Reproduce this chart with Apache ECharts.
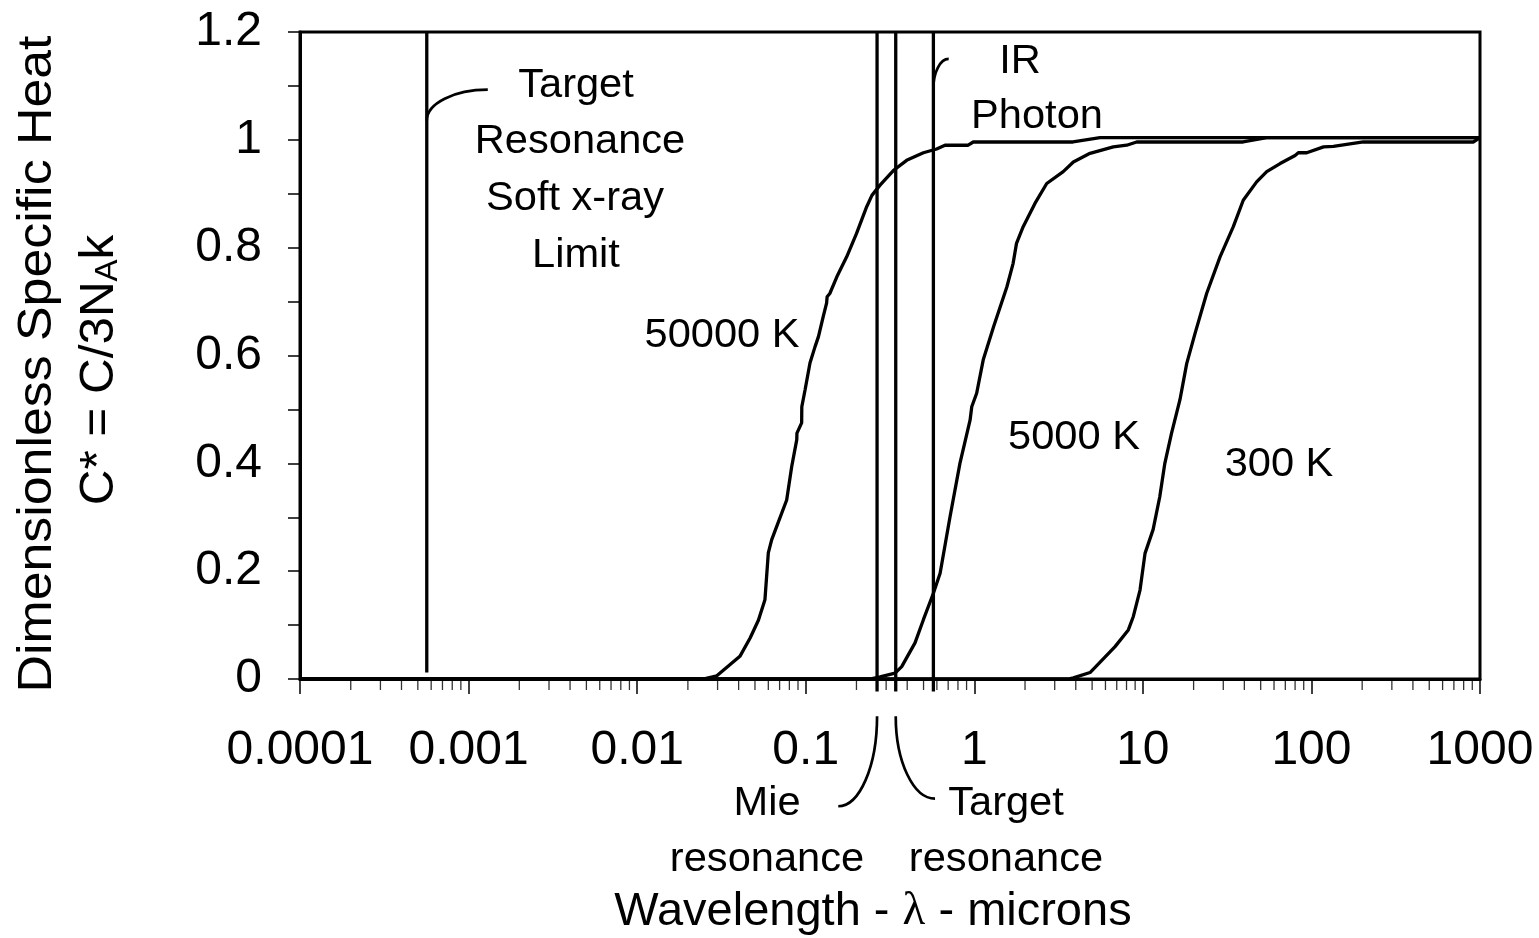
<!DOCTYPE html>
<html><head><meta charset="utf-8">
<script src="https://cdn.jsdelivr.net/npm/echarts@6/dist/echarts.min.js"></script>
<style>html,body{margin:0;padding:0;background:#fff}#c{width:1539px;height:938px}</style>
</head><body><div id="c"></div>
<script>
// ---- tick labels ----
const xTickLabels = ['0.0001','0.001','0.01','0.1','1','10','100','1000'];
const yTickLabels = ['0','0.2','0.4','0.6','0.8','1','1.2'];

// ---- 50000 K curve ----
const wl50000 = [0.0001,0.0246,0.0297,0.0407,0.0468,0.0524,0.0573,0.0600,0.0628,0.0673,0.0771,0.0826,0.0885,0.0887,0.0946,0.0948,0.0991,0.106,0.1135,0.119,0.127,0.133,0.134,0.139,0.153,0.175,0.200,0.230,0.247,0.276,0.331,0.397,0.499,0.598,0.670,0.920,0.986,3.85,5.57,1000];
const c50000  = [0,0,0.006,0.042,0.076,0.109,0.147,0.234,0.258,0.283,0.332,0.394,0.444,0.456,0.475,0.505,0.536,0.586,0.616,0.635,0.672,0.697,0.709,0.715,0.746,0.783,0.826,0.876,0.897,0.916,0.943,0.962,0.976,0.983,0.990,0.990,0.996,0.996,1.004,1.004];

// ---- 5000 K curve ----
const wl5000 = [0.0001,0.24,0.276,0.339,0.371,0.445,0.499,0.572,0.627,0.718,0.822,0.944,0.966,1.033,1.13,1.30,1.56,1.70,1.78,1.95,2.29,2.69,3.37,3.87,4.86,6.68,8.02,9.19,39.3,54.3,1000];
const c5000  = [0,0,0.004,0.011,0.023,0.067,0.110,0.159,0.196,0.301,0.400,0.480,0.505,0.530,0.592,0.653,0.727,0.771,0.808,0.839,0.882,0.919,0.941,0.959,0.975,0.987,0.990,0.996,0.996,1.004,1.004];

// ---- 300 K curve ----
const wl300 = [0.0001,3.6,3.87,4.86,6.84,8.20,8.78,9.62,10.3,11.5,12.6,13.5,14.8,16.6,18.2,20.4,23.9,28.7,34.4,39.4,47.3,54.3,65.2,80.0,83.6,93.8,118,135,203,912,1000];
const c300  = [0,0,0.002,0.012,0.060,0.091,0.116,0.165,0.233,0.277,0.338,0.400,0.456,0.518,0.585,0.641,0.715,0.783,0.839,0.888,0.922,0.941,0.956,0.971,0.976,0.976,0.987,0.988,0.996,0.996,1.004];

// ---- vertical marker lines ----
const vlineX = [0.000565, 0.265, 0.342, 0.572];
const vlineBottom = [0.012, -0.023, -0.023, -0.023];
const vlineTop = [1.2, 1.2, 1.2, 1.2];

// ---- leader curves (data coords: start, end) ----
const leaderStart = [[0.000565, 1.036], [0.572, 1.095], [0.265, -0.069], [0.342, -0.069]];
const leaderEnd   = [[0.0013, 1.093], [0.705, 1.15], [0.156, -0.236], [0.585, -0.222]];

function zip(xs, ys) { return xs.map((x, i) => [x, ys[i]]); }

// minor tick positions of the log axis (2..9 in each decade)
const minorTicks = [];
for (let e = -4; e < 3; e++) for (let m = 2; m <= 9; m++) minorTicks.push([m * Math.pow(10, e), 0]);

const FONT = '"Liberation Sans", Arial, sans-serif';
const chart = echarts.init(document.getElementById('c'), null, {renderer: 'canvas'});

const curveStyle = {color: '#000', width: 3.3};
const series = [
  {type: 'line', data: zip(wl50000, c50000), symbol: 'none', lineStyle: curveStyle, silent: true},
  {type: 'line', data: zip(wl5000, c5000), symbol: 'none', lineStyle: curveStyle, silent: true},
  {type: 'line', data: zip(wl300, c300), symbol: 'none', lineStyle: curveStyle, silent: true}
];
vlineX.forEach((x, i) => {
  series.push({type: 'line', data: [[x, vlineBottom[i]], [x, vlineTop[i]]], symbol: 'none', clip: false,
    lineStyle: {color: '#000', width: 3.3}, silent: true});
});
series.push({type: 'scatter', data: minorTicks, symbol: 'rect', symbolSize: [1.3, 11], symbolOffset: [0, 5.5],
  clip: false, itemStyle: {color: '#000'}, silent: true, z: 1});

chart.setOption({
  animation: false,
  backgroundColor: '#fff',
  grid: {left: 300, right: 59, top: 32, bottom: 259, show: true, borderColor: '#000', borderWidth: 3, backgroundColor: 'transparent'},
  xAxis: {
    type: 'log', logBase: 10, min: 0.0001, max: 1000, splitNumber: 7,
    axisLine: {show: true, onZero: false, lineStyle: {color: '#000', width: 3}},
    axisTick: {show: true, length: 15, lineStyle: {color: '#000', width: 1.5}},
    minorTick: {show: false},
    splitLine: {show: false},
    axisLabel: {margin: 48, color: '#000', fontSize: 48, fontFamily: FONT,
      formatter: (v, i) => xTickLabels[i]}
  },
  yAxis: {
    type: 'value', min: 0, max: 1.2, interval: 0.2,
    axisLine: {show: true, lineStyle: {color: '#000', width: 3}},
    axisTick: {show: true, length: 12, lineStyle: {color: '#000', width: 1.5}},
    minorTick: {show: true, splitNumber: 2, length: 12, lineStyle: {color: '#000', width: 1.5}},
    splitLine: {show: false},
    axisLabel: {margin: 38, color: '#000', fontSize: 48, fontFamily: FONT,
      formatter: (v, i) => yTickLabels[i]}
  },
  series: series
});

// ---- annotations ----
const g = [];
function leader(s, e) {
  const p0 = chart.convertToPixel({gridIndex: 0}, s);
  const p1 = chart.convertToPixel({gridIndex: 0}, e);
  const k = 0.5523;
  return {type: 'bezierCurve', silent: true, z: 50,
    shape: {x1: p0[0], y1: p0[1], x2: p1[0], y2: p1[1],
      cpx1: p0[0], cpy1: p0[1] + k * (p1[1] - p0[1]),
      cpx2: p1[0] - k * (p1[0] - p0[0]), cpy2: p1[1]},
    style: {stroke: '#000', lineWidth: 2.7, fill: null}};
}
leaderStart.forEach((s, i) => g.push(leader(s, leaderEnd[i])));

function txt(t, x, y, size) {
  return {type: 'text', x: x, y: y, silent: true, z: 60, scaleX: 1.04,
    style: {text: t, fill: '#000', font: size + 'px ' + FONT, align: 'center', verticalAlign: 'middle'}};
}
g.push(txt('Target', 576, 86, 40));
g.push(txt('Resonance', 580, 142, 40));
g.push(txt('Soft x-ray', 575, 199, 40));
g.push(txt('Limit', 576, 256, 40));
g.push(txt('IR', 1020, 62, 40));
g.push(txt('Photon', 1037, 117, 40));
g.push(txt('50000 K', 722, 336, 40));
g.push(txt('5000 K', 1074, 438, 40));
g.push(txt('300 K', 1279, 465, 40));
g.push(txt('Mie', 767, 804, 40));
g.push(txt('resonance', 767, 860, 40));
g.push(txt('Target', 1006, 804, 40));
g.push(txt('resonance', 1006, 860, 40));
g.push({type: 'text', x: 873, y: 912, silent: true, z: 60,
  style: {text: '{a|Wavelength - }{l|λ}{a| - microns}', align: 'center', verticalAlign: 'middle', fill: '#000',
    rich: {a: {font: '47px ' + FONT, fill: '#000'}, l: {font: '47px "Liberation Serif", serif', fill: '#000'}}}});
g.push({type: 'text', x: 38, y: 364, rotation: Math.PI / 2, scaleX: 1.08, silent: true, z: 60,
  style: {text: 'Dimensionless Specific Heat', fill: '#000', font: '48px ' + FONT, align: 'center', verticalAlign: 'middle'}});
g.push({type: 'text', x: 100, y: 370, rotation: Math.PI / 2, scaleX: 1.03, silent: true, z: 60,
  style: {text: '{a|C* = C/3N}{b|A}{a|k}', align: 'center', verticalAlign: 'middle', fill: '#000',
    rich: {a: {font: '48px ' + FONT, fill: '#000', verticalAlign: 'bottom'}, b: {font: '32px ' + FONT, fill: '#000', verticalAlign: 'bottom'}}}});
chart.setOption({graphic: g});
</script>
</body></html>
